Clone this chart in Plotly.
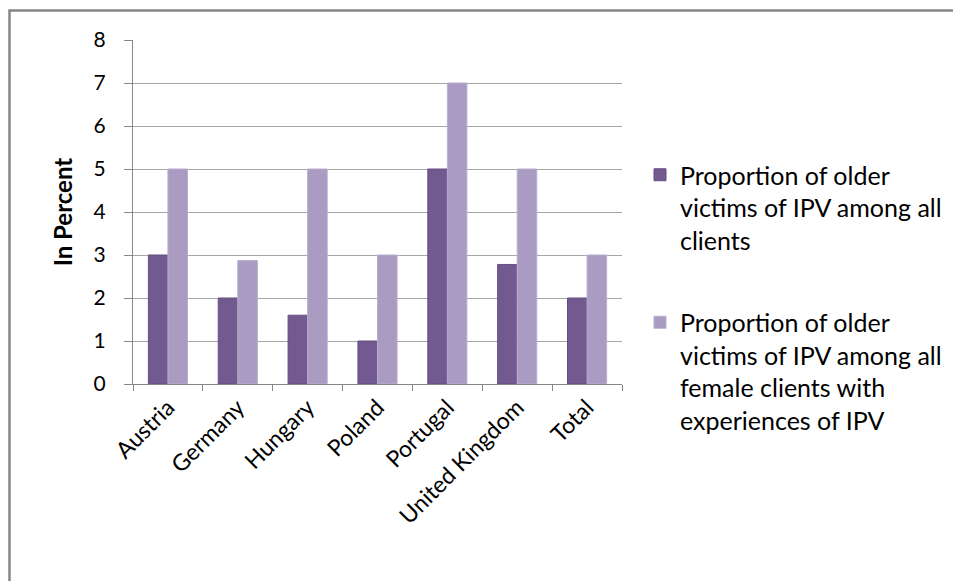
import plotly.graph_objects as go

categories = ["Austria", "Germany", "Hungary", "Poland", "Portugal", "United Kingdom", "Total"]
all_clients = [3, 2, 1.6, 1, 5, 2.78, 2]
female_ipv = [5, 2.87, 5, 3, 7, 5, 3]
series_names = [
    "Proportion of older<br>victims of IPV among all<br>clients",
    "Proportion of older<br>victims of IPV among all<br>female clients with<br>experiences of IPV",
]
y_ticks = [0, 1, 2, 3, 4, 5, 6, 7, 8]

OFF = 8  # page body margin
W, H = 961 - OFF, 581 - OFF
L, R, T, B = 133 - OFF, 622 - OFF, 40 - OFF, 384 - OFF

def px(x):
    return (x - OFF - L) / (R - L)

def py(y):
    return (B - (y - OFF)) / (B - T)

fig = go.Figure()
fig.add_trace(go.Bar(
    x=categories, y=all_clients, name=series_names[0], legendgroup="a",
    marker=dict(color="#72598f", line=dict(color="#654f82", width=1)),
))
fig.add_trace(go.Bar(
    x=categories, y=female_ipv, name=series_names[1], legendgroup="b",
    marker=dict(color="#a99bc1", line=dict(color="#b9aecf", width=1)),
))

font = "Lato, 'Open Sans', sans-serif"
fig.update_layout(
    width=W, height=H,
    margin=dict(l=L, r=W - R, t=T, b=H - B),
    paper_bgcolor="white", plot_bgcolor="white",
    barmode="group", bargap=0.44, bargroupgap=0,
    font=dict(family=font, size=21, color="#000000"),
    showlegend=True,
    legend=dict(
        x=px(640), y=py(152), xanchor="left", yanchor="top",
        font=dict(family=font, size=25, color="#000000"),
        tracegroupgap=47, itemwidth=30, valign="top",
        bgcolor="rgba(0,0,0,0)",
    ),
    xaxis=dict(
        type="category", showline=True, linecolor="#868686", linewidth=1,
        ticks="outside", tickson="boundaries", ticklen=6, tickcolor="#868686",
        tickangle=-45, showgrid=False, tickfont=dict(size=23),
    ),
    yaxis=dict(
        range=[0, 8], tickvals=y_ticks, showline=True, linecolor="#868686", linewidth=1,
        ticks="outside", ticklen=8, tickcolor="#868686", ticklabelstandoff=14,
        showgrid=True, gridcolor="#a6a6a6", gridwidth=1, zeroline=False,
        tickfont=dict(size=21),
        title=dict(text="<b>In Percent</b>", font=dict(size=24), standoff=14),
    ),
    shapes=[dict(
        type="rect", xref="paper", yref="paper",
        x0=px(9.5), x1=px(975), y0=py(600), y1=py(10.5),
        line=dict(color="#868686", width=2.5), fillcolor="rgba(0,0,0,0)", layer="below",
    )],
)

fig.write_html("out.html")
